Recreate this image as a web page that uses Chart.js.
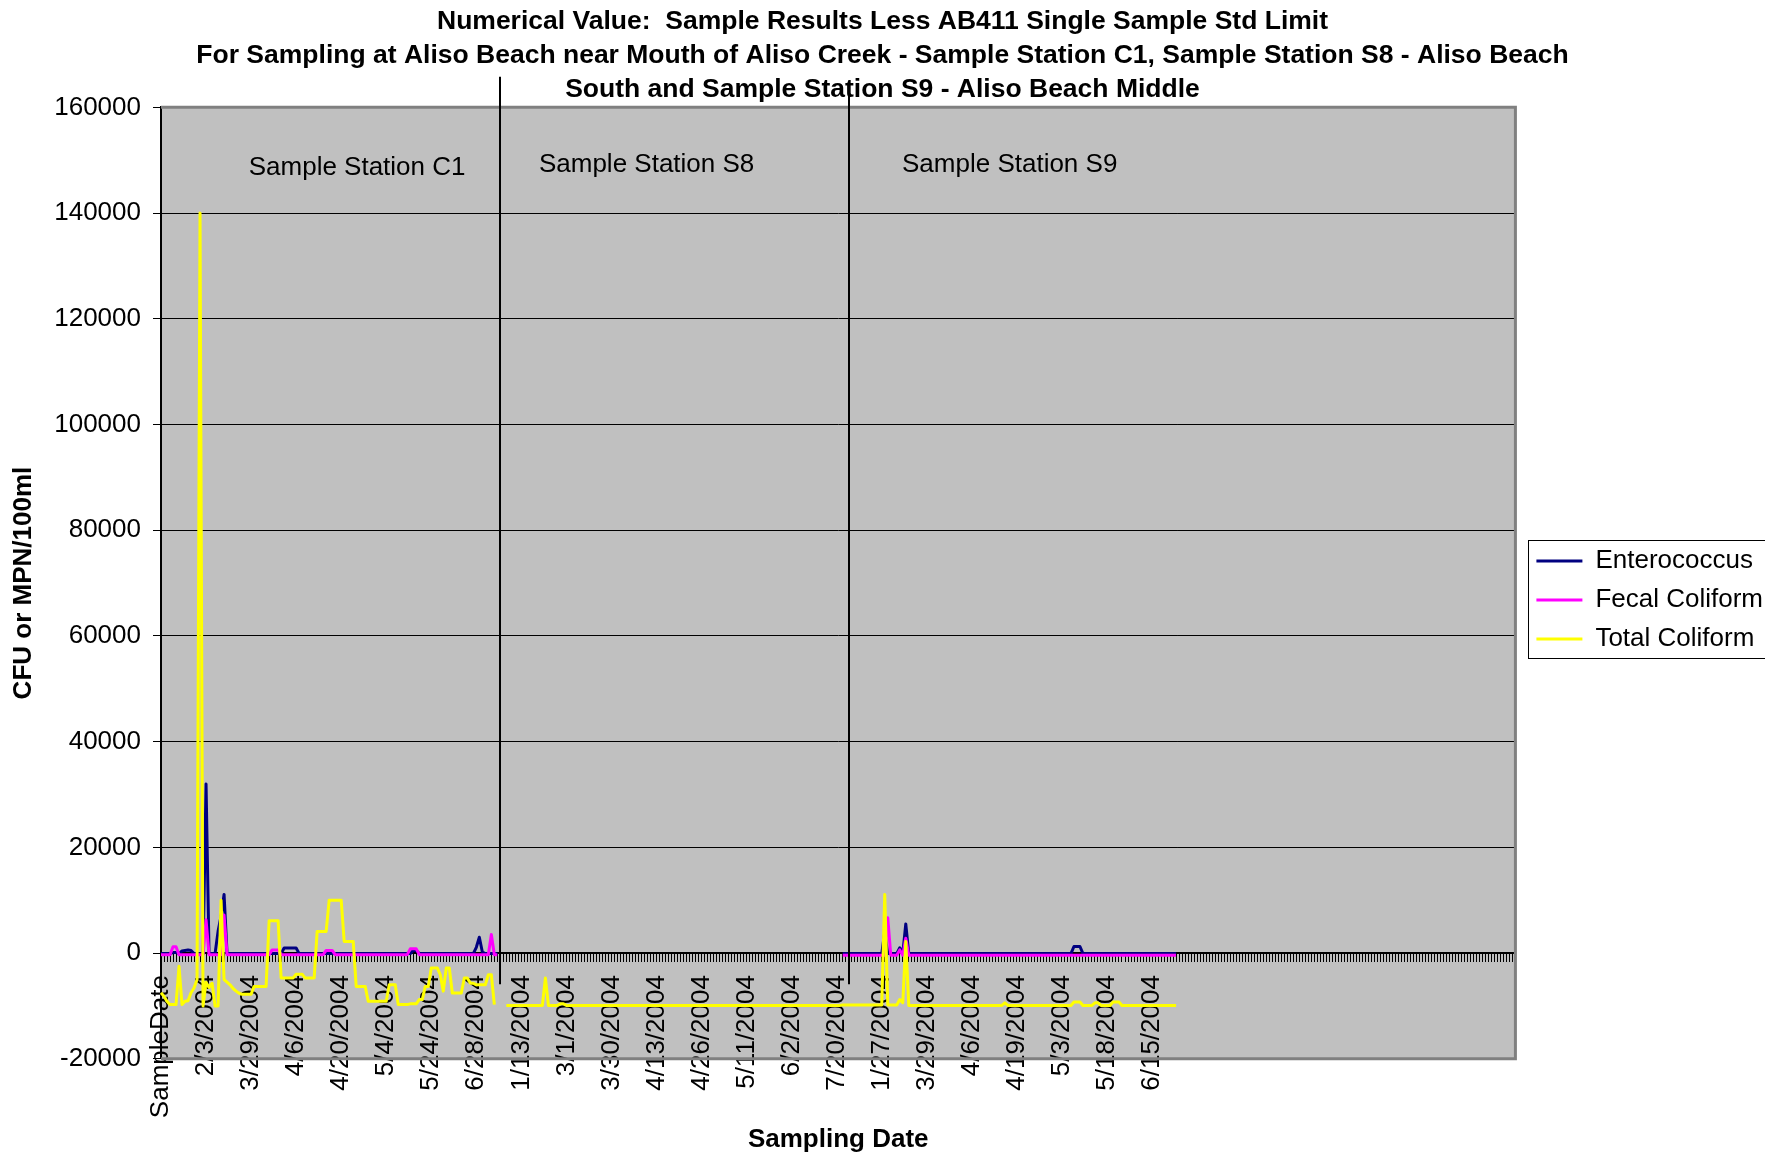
<!DOCTYPE html>
<html>
<head>
<meta charset="utf-8">
<title>Aliso Beach - Sample Results Less AB411 Limit</title>
<script src="https://cdn.jsdelivr.net/npm/chart.js@4.4.1/dist/chart.umd.min.js"></script>
<style>
  body { margin: 0; background: #fff; }
  #chart-box { width: 1765px; height: 1155px; }
</style>
</head>
<body>
<div id="chart-box"><canvas id="aliso-chart" width="1765" height="1155"></canvas></div>
<script>
const TICK_LABELS = [
  "SampleDate", "2/3/2004", "3/29/2004", "4/6/2004", "4/20/2004", "5/4/2004",
  "5/24/2004", "6/28/2004", "1/13/2004", "3/1/2004", "3/30/2004", "4/13/2004",
  "4/26/2004", "5/11/2004", "6/2/2004", "7/20/2004", "1/27/2004", "3/29/2004",
  "4/6/2004", "4/19/2004", "5/3/2004", "5/18/2004", "6/15/2004",
];
const LABEL_EVERY = 15;
const CATEGORY_COUNT = 452;

const SERIES_NAMES = ["Enterococcus", "Fecal Coliform", "Total Coliform"];
const SERIES_COLORS = ["#000080", "#ff00ff", "#ffff00"];
const STATION_NAMES = ["Sample Station C1", "Sample Station S8", "Sample Station S9"];

// Sample Station C1
const c1_entero = [
  -100, -100, -100, -100, 100, 100, -100, 400, 500, 600,
  500, -100, -100, -100, -100, 32000, -100, -100, -100, 4100,
  7000, 11100, -100, -100, -100, -100, -100, -100, -100, -100,
  -100, -100, -100, -100, -100, -100, -100, -100, -100, -100,
  -100, 950, 950, 950, 950, 950, -100, -100, -100, -100,
  -100, -100, -100, -100, -100, -100, -100, -100, -100, -100,
  -100, -100, -100, -100, -100, -100, -100, -100, -100, -100,
  -100, -100, -100, -100, -100, -100, -100, -100, -100, -100,
  -100, -100, -100, -100, 500, 500, -100, -100, -100, -100,
  -100, -100, -100, -100, -100, -100, -100, -100, -100, -100,
  -100, -100, -100, -100, -100, 1100, 3000, 200, -100, -100,
  -100, -100, -100,
];
const c1_fecal = [
  -300, -300, -300, -300, 1200, 1200, -300, -300, -300, -300,
  -300, -300, -300, -300, -300, 6300, -300, -300, -300, -300,
  -300, 7200, -300, -300, -300, -300, -300, -300, -300, -300,
  -300, -300, -300, -300, -300, -300, -300, 600, 600, 600,
  -300, -300, -300, -300, -300, -300, -300, -300, -300, -300,
  -300, -300, -300, -300, -300, 500, 500, 500, -300, -300,
  -300, -300, -300, -300, -300, -300, -300, -300, -300, -300,
  -300, -300, -300, -300, -300, -300, -300, -300, -300, -300,
  -300, -300, -300, 800, 800, 800, -300, -300, -300, -300,
  -300, -300, -300, -300, -300, -300, -300, -300, -300, -300,
  -300, -300, -300, -300, -300, -300, -300, -300, -300, -300,
  3500, -300, -300,
];
const c1_total = [
  -7500, -8200, -9100, -9750, -9750, -9750, -2500, -9750, -9100, -9000,
  -7500, -6600, -5000, 140000, -10000, -5500, -6500, -5700, -10000, -10000,
  10000, -5000, -5500, -6000, -6700, -7200, -7600, -7800, -7800, -7800,
  -7800, -6300, -6300, -6300, -6300, -6300, 6100, 6100, 6100, 6100,
  -4700, -4700, -4700, -4700, -4700, -4000, -4000, -4000, -4700, -4700,
  -4700, -4700, 4100, 4100, 4100, 4100, 10000, 10000, 10000, 10000,
  10000, 2200, 2200, 2200, 2200, -6300, -6300, -6300, -6300, -9100,
  -9100, -9100, -9100, -9100, -9100, -9100, -6000, -6000, -6000, -9750,
  -9750, -9750, -9750, -9600, -9600, -9600, -8800, -8800, -6300, -6300,
  -2800, -2800, -2800, -4100, -7200, -2800, -2800, -7550, -7550, -7550,
  -7550, -4700, -4700, -5700, -5700, -6000, -6000, -6000, -6000, -4100,
  -4100, -9750, null,
];

// Sample Station S8 (only total coliform was plotted)
const s8_total = [
  null, null, -9900, -9900, -9900, -9900, -9900, -9900, -9900, -9900,
  -9900, -9900, -9900, -9900, -9900, -4700, -9900, -9900, -9900, -9900,
  -9600, -9600, -9900, -9900, -9900, -9900, -9900, -9900, -9900, -9900,
  -9900, -9900, -9900, -9900, -9900, -9900, -9900, -9900, -9900, -9900,
  -9900, -9900, -9900, -9900, -9900, -9900, -9900, -9900, -9900, -9900,
  -9900, -9900, -9900, -9900, -9900, -9900, -9900, -9900, -9900, -9900,
  -9900, -9900, -9900, -9900, -9900, -9900, -9900, -9900, -9900, -9900,
  -9900, -9900, -9900, -9900, -9900, -9900, -9900, -9900, -9900, -9900,
  -9900, -9900, -9900, -9900, -9900, -9900, -9900, -9900, -9900, -9900,
  -9900, -9900, -9900, -9900, -9900, -9900, -9900, -9900, -9900, -9900,
  -9900, -9900, -9900, -9900, -9900, -9900, -9900, -9900, -9900, -9900,
  -9900, -9900, -9900, -9900,
];

// Sample Station S9
const s9_entero = [
  -100, -100, -100, -100, -100, -100, -100, -100, -100, -100,
  -100, -100, -100, -100, 4000, -100, -100, -100, -100, 1000,
  -100, 5500, -100, -100, -100, -100, -100, -100, -100, -100,
  -100, -100, -100, -100, -100, -100, -100, -100, -100, -100,
  -100, -100, -100, -100, -100, -100, -100, -100, -100, -100,
  -100, -100, -100, -100, -100, -100, -100, -100, -100, -100,
  -100, -100, -100, -100, -100, -100, -100, -100, -100, -100,
  -100, -100, -100, -100, -100, -100, -100, 1250, 1250, 1250,
  -100, -100, -100, -100, -100, -100, -100, -100, -100, -100,
  -100, -100, -100, -100, -100, -100, -100, -100, -100, -100,
  -100, -100, -100, -100, -100, -100, -100, -100, -100, -100,
  -100, -100,
];
const s9_fecal = [
  -400, -400, -400, -400, -400, -400, -400, -400, -400, -400,
  -400, -400, -400, -400, -400, 6700, -400, -400, -400, 600,
  -400, 2800, -400, -400, -400, -400, -400, -400, -400, -400,
  -400, -400, -400, -400, -400, -400, -400, -400, -400, -400,
  -400, -400, -400, -400, -400, -400, -400, -400, -400, -400,
  -400, -400, -400, -400, -400, -400, -400, -400, -400, -400,
  -400, -400, -400, -400, -400, -400, -400, -400, -400, -400,
  -400, -400, -400, -400, -400, -400, -400, -400, -400, -400,
  -400, -400, -400, -400, -400, -400, -400, -400, -400, -400,
  -400, -400, -400, -400, -400, -400, -400, -400, -400, -400,
  -400, -400, -400, -400, -400, -400, -400, -400, -400, -400,
  -400, -400,
];
const s9_total = [
  -9800, -9800, -9800, -9800, -9800, -9800, -9800, -9800, -9800, -9800,
  -9800, -9800, -9800, -9800, 11100, -9800, -9800, -9800, -9800, -8800,
  -9400, 2200, -9900, -9900, -9900, -9900, -9900, -9900, -9900, -9900,
  -9900, -9900, -9900, -9900, -9900, -9900, -9900, -9900, -9900, -9900,
  -9900, -9900, -9900, -9900, -9900, -9900, -9900, -9900, -9900, -9900,
  -9900, -9900, -9900, -9900, -9400, -9900, -9900, -9900, -9900, -9900,
  -9900, -9900, -9900, -9900, -9900, -9900, -9900, -9900, -9900, -9900,
  -9900, -9900, -9900, -9900, -9900, -9900, -9900, -9250, -9250, -9250,
  -9900, -9900, -9900, -9900, -9400, -9400, -9900, -9900, -9900, -9900,
  -9250, -9250, -9250, -9900, -9900, -9900, -9900, -9900, -9900, -9900,
  -9900, -9900, -9900, -9900, -9900, -9900, -9900, -9900, -9900, -9900,
  -9900, -9900,
];

const categories = [];
for (let i = 0; i < CATEGORY_COUNT; i++) {
  const label = i % LABEL_EVERY === 0 ? TICK_LABELS[i / LABEL_EVERY] : undefined;
  categories.push(label || "");
}

// S8 has no enterococcus / fecal points, leave a gap there
const s8_gap = s8_total.map(() => null);
const entero_data = [...c1_entero, ...s8_gap, ...s9_entero];
const fecal_data = [...c1_fecal, ...s8_gap, ...s9_fecal];
const total_data = [...c1_total, ...s8_total, ...s9_total];

const plotDecor = {
  id: "plotDecor",
  afterLayout(chart, args, opts) {
    // nudge the legend a little to the right, like the original
    const legend = chart.legend;
    if (legend) {
      legend.left += opts.legendShift;
      legend.right += opts.legendShift;
    }
  },
  beforeDraw(chart) {
    const { ctx, chartArea } = chart;
    ctx.save();
    ctx.fillStyle = "#c0c0c0";
    ctx.fillRect(
      chartArea.left,
      chartArea.top,
      chartArea.right - chartArea.left,
      chartArea.bottom - chartArea.top
    );
    ctx.restore();
  },
  beforeDatasetsDraw(chart) {
    const { ctx, chartArea } = chart;
    ctx.save();
    ctx.strokeStyle = "#808080";
    ctx.lineWidth = 3;
    ctx.beginPath();
    ctx.moveTo(chartArea.left, chartArea.top);
    ctx.lineTo(chartArea.right, chartArea.top);
    ctx.lineTo(chartArea.right, chartArea.bottom);
    ctx.lineTo(chartArea.left, chartArea.bottom);
    ctx.stroke();
    ctx.restore();
  },
  afterDraw(chart, args, opts) {
    const { ctx } = chart;
    const x = chart.scales.x;
    const y = chart.scales.y;
    ctx.save();

    ctx.strokeStyle = "#000";
    ctx.lineWidth = 2;
    opts.dividers.forEach((d) => {
      const px = Math.round(x.getPixelForValue(d.at));
      ctx.beginPath();
      ctx.moveTo(px, y.getPixelForValue(d.top));
      ctx.lineTo(px, y.getPixelForValue(d.bottom));
      ctx.stroke();
    });

    ctx.fillStyle = "#000";
    ctx.font = "26px 'Liberation Sans', Arial, sans-serif";
    ctx.textAlign = "center";
    ctx.textBaseline = "middle";
    opts.stations.forEach((s, i) => {
      ctx.fillText(STATION_NAMES[i], x.getPixelForValue(s.at), y.getPixelForValue(s.value));
    });

    // border round the legend, the right side runs off the canvas
    const boxes = chart.legend.legendHitBoxes;
    if (boxes && boxes.length) {
      const first = boxes[0];
      const last = boxes[boxes.length - 1];
      const left = Math.round(first.left - 8) + 0.5;
      const top = Math.round(first.top - 8) + 0.5;
      const bottom = Math.round(last.top + last.height + 6) + 0.5;
      ctx.strokeStyle = "#000";
      ctx.lineWidth = 1;
      ctx.strokeRect(left, top, chart.width + 10 - left, bottom - top);
    }
    ctx.restore();
  },
};

Chart.defaults.font.family = "'Liberation Sans', Arial, sans-serif";
Chart.defaults.font.size = 26;
Chart.defaults.color = "#000";

const makeSet = (idx, data, order) => ({
  label: SERIES_NAMES[idx],
  data: data,
  borderColor: SERIES_COLORS[idx],
  backgroundColor: SERIES_COLORS[idx],
  borderWidth: 3,
  borderJoinStyle: "round",
  pointRadius: 0,
  pointHoverRadius: 0,
  tension: 0,
  order: order,
});

const aliso_chart = new Chart(document.getElementById("aliso-chart"), {
  type: "line",
  data: {
    labels: categories,
    datasets: [
      makeSet(0, entero_data, 3),
      makeSet(1, fecal_data, 2),
      makeSet(2, total_data, 1),
    ],
  },
  options: {
    responsive: false,
    animation: false,
    devicePixelRatio: 1,
    layout: { padding: 0 },
    events: [],
    scales: {
      x: {
        type: "category",
        position: { y: 0 },
        offset: false,
        grid: {
          display: true,
          drawOnChartArea: false,
          drawTicks: true,
          tickLength: 8,
          color: "#000",
          lineWidth: 1,
        },
        border: { display: true, color: "#000", width: 2 },
        ticks: {
          autoSkip: false,
          minRotation: 90,
          maxRotation: 90,
          padding: 14,
          color: "#000",
          font: { size: 26 },
        },
      },
      y: {
        min: -20000,
        max: 160000,
        afterFit: (scale) => {
          scale.width = 161;
        },
        ticks: {
          stepSize: 20000,
          padding: 12,
          color: "#000",
          font: { size: 26 },
          callback: (value) => String(value),
        },
        grid: { color: "#000", lineWidth: 1, tickLength: 8 },
        border: { color: "#000", width: 2 },
        title: {
          display: true,
          text: "CFU or MPN/100ml",
          color: "#000",
          font: { size: 26, weight: "bold" },
          padding: { top: 8, bottom: 0 },
        },
      },
    },
    plugins: {
      title: {
        display: true,
        text: [
          "Numerical Value:  Sample Results Less AB411 Single Sample Std Limit",
          "For Sampling at Aliso Beach near Mouth of Aliso Creek - Sample Station C1, Sample Station S8 - Aliso Beach",
          "South and Sample Station S9 - Aliso Beach Middle",
        ],
        color: "#000",
        font: { size: 26.5, weight: "bold", lineHeight: 1.275 },
        padding: { top: 5, bottom: 1 },
      },
      subtitle: {
        display: true,
        position: "bottom",
        fullSize: false,
        text: "Sampling Date",
        color: "#000",
        font: { size: 26, weight: "bold" },
        padding: { top: 65, bottom: 0 },
      },
      legend: {
        position: "right",
        fullSize: false,
        title: { display: true, text: "", font: { size: 10 }, padding: 11 },
        labels: {
          usePointStyle: true,
          pointStyle: "line",
          pointStyleWidth: 46,
          padding: 13,
          color: "#000",
          font: { size: 26 },
          sort: (a, b) => a.datasetIndex - b.datasetIndex,
        },
      },
      tooltip: { enabled: false },
      plotDecor: {
        legendShift: 8,
        dividers: [
          { at: 113, top: 165800, bottom: -5900 },
          { at: 229.1, top: 164300, bottom: -5900 },
        ],
        stations: [
          { at: 65.3, value: 148500 },
          { at: 161.7, value: 149100 },
          { at: 282.6, value: 149100 },
        ],
      },
    },
  },
  plugins: [plotDecor],
});
</script>
</body>
</html>
